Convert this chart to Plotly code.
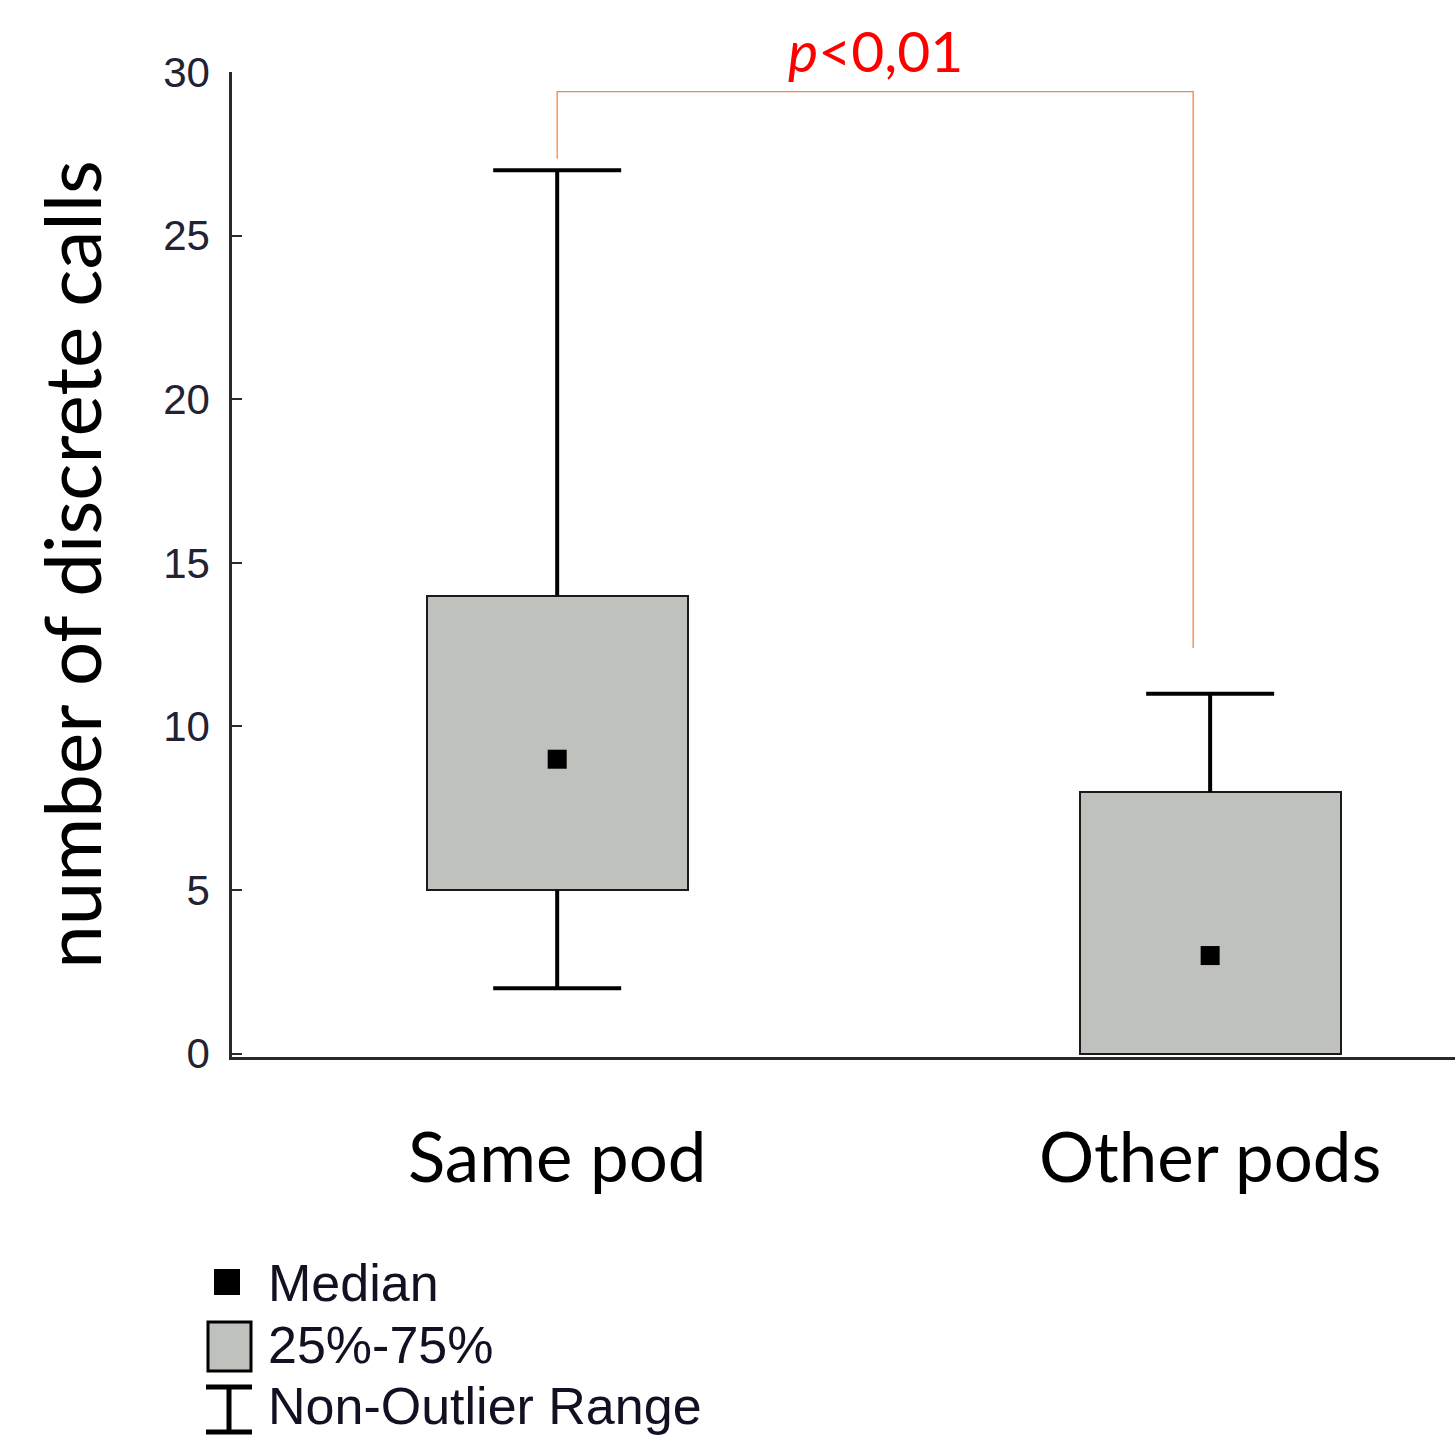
import plotly.graph_objects as go

# ---- data ----
categories = ["Same pod", "Other pods"]
positions = [0, 1]
q1 = [5, 0]
median = [9, 3]
q3 = [14, 8]
whisker_low = [2, 0]
whisker_high = [27, 11]
y_ticks = [0, 5, 10, 15, 20, 25, 30]
legend_labels = ["Median", "25%-75%", "Non-Outlier Range"]
p_text = "<i>p</i><0,01"

W, H = 1455, 1437
L, R, T, B = 232, 0, 72, 380
PW, PH = W - L - R, H - T - B

def px(x):
    return (x - L) / PW

def py(y):
    return (H - B - y) / PH

BOX_FILL = "#bfc2bc"
BOX_W = 0.40
CAP_HALF = 0.098

fig = go.Figure()

# boxes (25%-75%)
fig.add_trace(go.Bar(
    x=positions, y=[b - a for a, b in zip(q1, q3)], base=q1, width=BOX_W,
    marker=dict(color=BOX_FILL, line=dict(color="#1a1a1a", width=2)),
    showlegend=False, hoverinfo="skip"))

# whiskers
wx, wy = [], []
for xpos, a, b, lo, hi in zip(positions, q1, q3, whisker_low, whisker_high):
    if hi > b:
        wx += [xpos, xpos, None, xpos - CAP_HALF, xpos + CAP_HALF, None]
        wy += [b, hi, None, hi, hi, None]
    if lo < a:
        wx += [xpos, xpos, None, xpos - CAP_HALF, xpos + CAP_HALF, None]
        wy += [a, lo, None, lo, lo, None]
fig.add_trace(go.Scatter(x=wx, y=wy, mode="lines",
                         line=dict(color="black", width=4),
                         showlegend=False, hoverinfo="skip"))

# medians
fig.add_trace(go.Scatter(x=positions, y=median, mode="markers",
                         marker=dict(symbol="square", size=19, color="black"),
                         showlegend=False, hoverinfo="skip"))

# significance bracket
br_y_top = 29.4
fig.add_trace(go.Scatter(
    x=[positions[0], positions[0], 0.974, 0.974],
    y=[whisker_high[0] + 0.35, br_y_top, br_y_top, whisker_high[1] + 1.4],
    mode="lines", line=dict(color="#f0883e", width=1.3),
    showlegend=False, hoverinfo="skip", cliponaxis=False))

fig.add_annotation(x=0.487, y=br_y_top, xref="x", yref="y", text=p_text,
                   showarrow=False, yanchor="bottom", yshift=6,
                   font=dict(family="Lato", size=57, color="#ff0000"))

# custom legend
leg_font = dict(family="Liberation Sans", size=52, color="#111122")
# median marker
fig.add_shape(type="rect", xref="paper", yref="paper",
              x0=px(214), x1=px(240), y0=py(1295), y1=py(1269),
              fillcolor="black", line=dict(width=0))
# box
fig.add_shape(type="rect", xref="paper", yref="paper",
              x0=px(208), x1=px(251), y0=py(1371), y1=py(1322),
              fillcolor=BOX_FILL, line=dict(color="black", width=3))
# whisker symbol
fig.add_shape(type="line", xref="paper", yref="paper",
              x0=px(206), x1=px(252), y0=py(1387), y1=py(1387),
              line=dict(color="black", width=5))
fig.add_shape(type="line", xref="paper", yref="paper",
              x0=px(206), x1=px(252), y0=py(1432), y1=py(1432),
              line=dict(color="black", width=5))
fig.add_shape(type="line", xref="paper", yref="paper",
              x0=px(229), x1=px(229), y0=py(1387), y1=py(1432),
              line=dict(color="black", width=5))
for lab, yc in zip(legend_labels, [1283, 1345, 1406]):
    fig.add_annotation(x=px(266), y=py(yc), xref="paper", yref="paper",
                       text=lab, showarrow=False, xanchor="left", yanchor="middle",
                       font=leg_font)

fig.update_layout(
    width=W, height=H,
    margin=dict(l=L, r=R, t=T, b=B, pad=0),
    plot_bgcolor="white", paper_bgcolor="white",
    bargap=0,
    xaxis=dict(range=[-0.498, 1.375], tickvals=positions, ticktext=categories,
               showgrid=False, zeroline=False, showline=True, linecolor="#2a2a2a",
               linewidth=3, ticks="", ticklabelstandoff=39,
               tickfont=dict(family="Lato", size=69, color="black")),
    yaxis=dict(range=[-0.1, 30], tickvals=y_ticks, showgrid=False, zeroline=False,
               showline=True, linecolor="#2a2a2a", linewidth=2.5,
               ticks="inside", ticklen=10, tickwidth=2, tickcolor="#2a2a2a",
               ticklabelstandoff=11,
               tickfont=dict(family="Liberation Sans", size=42, color="#222233"),
               title=dict(text="number of discrete calls", standoff=36,
                          font=dict(family="Lato", size=78, color="black"))),
    showlegend=False,
)

fig.write_html("out.html", config={"displayModeBar": False},
               post_script="document.body.style.margin='0';document.body.style.padding='0';")
